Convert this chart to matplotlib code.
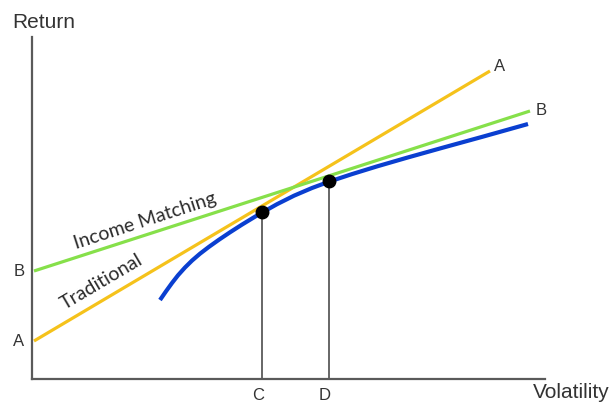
import matplotlib.pyplot as plt

# Values (volatility along x, return along y)
line_a_x = [2, 458]
line_a_y = [38, 308]
line_b_x = [2, 498]
line_b_y = [108, 268]
frontier_x = [128, 134, 140, 146, 153, 160, 168, 177, 187, 198, 210, 222,
              229, 245, 262, 280, 297, 320, 345, 375, 410, 450, 496]
frontier_y = [79, 87.7, 96.0, 103.7, 111.5, 118.4, 125.3, 132.2, 139.3, 146.7, 154.4, 161.7,
              165.8, 174.8, 183.3, 191.0, 197.3, 204.9, 212.6, 221.3, 231.1, 242.1, 255.0]
point_x = [230, 297]
point_y = [167, 198]
point_labels = ["C", "D"]

plt.rcParams['font.family'] = ['Liberation Sans', 'DejaVu Sans']

fig = plt.figure(figsize=(6.13, 4.04), dpi=100)
ax = fig.add_axes([32 / 613, 25 / 404, 513 / 613, 342 / 404])
ax.set_xlim(0, 513)
ax.set_ylim(0, 342)

for side in ["top", "right"]:
    ax.spines[side].set_visible(False)
for side in ["left", "bottom"]:
    ax.spines[side].set_color("#5a5a5a")
    ax.spines[side].set_linewidth(1.6)
ax.set_xticks([])
ax.set_yticks([])

# Lines and efficient frontier
ax.plot(line_a_x, line_a_y, color="#f5c21b", lw=2.3, solid_capstyle="butt")
ax.plot(line_b_x, line_b_y, color="#86e04a", lw=2.3, solid_capstyle="butt")
ax.plot(frontier_x, frontier_y, color="#0a3fd0", lw=3.0,
        solid_capstyle="butt", solid_joinstyle="round")

# Points with drop lines to the x axis
ax.vlines(point_x, 0, point_y, color="#5a5a5a", lw=1.3)
ax.plot(point_x, point_y, "o", color="black", ms=9, zorder=5)

# Labels
for x, lab in zip(point_x, point_labels):
    ax.text(x - 4, -16, lab, ha="center", va="center", fontsize=12, color="#333333", clip_on=False)
ax.text(-13, line_a_y[0], "A", ha="center", va="center", fontsize=12, color="#333333", clip_on=False)
ax.text(-13, line_b_y[0], "B", ha="center", va="center", fontsize=12, color="#333333", clip_on=False)
ax.text(line_a_x[1] + 10, line_a_y[1] + 5, "A", ha="center", va="center", fontsize=12, color="#333333")
ax.text(line_b_x[1] + 11, line_b_y[1] + 1, "B", ha="center", va="center", fontsize=12, color="#333333")

ax.text(113, 158, "Income Matching", rotation=18, ha="center", va="center",
        fontsize=14, family="Lato", color="#2b2b2b", rotation_mode="anchor")
ax.text(70, 97, "Traditional", rotation=30.5, ha="center", va="center",
        fontsize=14, family="Lato", color="#2b2b2b", rotation_mode="anchor")

fig.text(12 / 613, 1 - 22 / 404, "Return", ha="left", va="center", fontsize=15, color="#333333")
fig.text(610 / 613, 1 - 393 / 404, "Volatility", ha="right", va="center", fontsize=15, color="#333333")

fig.savefig("out.png", dpi=100)
